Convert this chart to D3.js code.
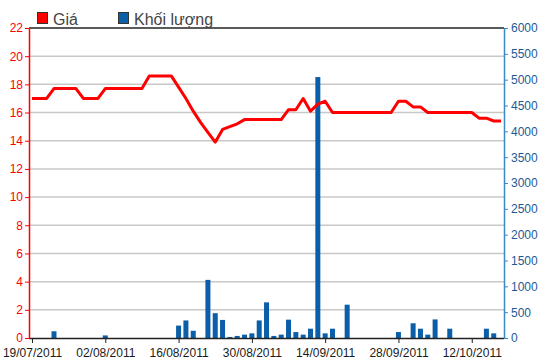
<!DOCTYPE html>
<html>
<head>
<meta charset="utf-8">
<script src="https://cdn.jsdelivr.net/npm/d3@7"></script>
<style>
  body { margin: 0; background: #fff; }
  svg { display: block; font-family: "Liberation Sans", Arial, sans-serif; }
</style>
</head>
<body>
<script>
// Price (left axis) and volume (right axis), one value per trading day
const prices = [
  17.0, 17.0, 17.0, 17.7, 17.7, 17.7, 17.7, 17.0, 17.0, 17.0,
  17.7, 17.7, 17.7, 17.7, 17.7, 17.7, 18.6, 18.6, 18.6, 18.6,
  17.8, 17.0, 16.1, 15.3, 14.6, 13.9, 14.8, 15.0, 15.2, 15.5,
  15.5, 15.5, 15.5, 15.5, 15.5, 16.2, 16.2, 17.0, 16.1, 16.6,
  16.8, 16.0, 16.0, 16.0, 16.0, 16.0, 16.0, 16.0, 16.0, 16.0,
  16.8, 16.8, 16.4, 16.4, 16.0, 16.0, 16.0, 16.0, 16.0, 16.0,
  16.0, 15.6, 15.6, 15.4, 15.4
];
const volumes = [
  0, 0, 0, 130, 0, 0, 0, 0, 0, 0,
  50, 0, 0, 0, 0, 0, 0, 0, 0, 0,
  240, 340, 140, 0, 1125, 480, 350, 20, 40, 65,
  90, 340, 690, 40, 65, 355, 115, 65, 180, 5050,
  90, 180, 0, 645, 0, 0, 0, 0, 0, 0,
  115, 0, 285, 180, 65, 360, 0, 180, 0, 0,
  0, 0, 180, 90, 0
];
const dateTickIndex = [0, 10, 20, 30, 40, 50, 60];
const dateTickLabels = ["19/07/2011", "02/08/2011", "16/08/2011", "30/08/2011",
                        "14/09/2011", "28/09/2011", "12/10/2011"];
const priceTicks = [0, 2, 4, 6, 8, 10, 12, 14, 16, 18, 20, 22];
const volumeTicks = [0, 500, 1000, 1500, 2000, 2500, 3000, 3500, 4000, 4500, 5000, 5500, 6000];

const width = 550, height = 364;
const plotLeft = 29, plotRight = 504, plotTop = 28, plotBottom = 338;
const tickFont = "Liberation Sans, Arial, sans-serif";

const svg = d3.select("body").append("svg")
  .attr("width", width)
  .attr("height", height);

const x = d3.scaleLinear().domain([-0.41, 64.4]).range([plotLeft, plotRight]);
const yPrice = d3.scaleLinear().domain([0, 22]).range([plotBottom, plotTop]);
const yVol = d3.scaleLinear().domain([0, 6000]).range([plotBottom, plotTop]);

// horizontal grid lines
svg.append("g")
  .selectAll("line")
  .data(priceTicks.slice(1, -1))
  .enter().append("line")
  .attr("x1", plotLeft).attr("x2", plotRight)
  .attr("y1", d => yPrice(d)).attr("y2", d => yPrice(d))
  .attr("stroke", "#c8c8c8").attr("stroke-width", 1.5);

// top border
svg.append("line")
  .attr("x1", plotLeft).attr("x2", plotRight)
  .attr("y1", plotTop).attr("y2", plotTop)
  .attr("stroke", "#5a5a5a").attr("stroke-width", 2);

// volume bars
svg.append("g")
  .selectAll("rect")
  .data(volumes.map((v, i) => ({ i, v })).filter(d => d.v > 0))
  .enter().append("rect")
  .attr("x", d => x(d.i) - 2.5)
  .attr("width", 5)
  .attr("y", d => yVol(d.v))
  .attr("height", d => plotBottom - yVol(d.v))
  .attr("fill", "#0a5fa8");

// price line
svg.append("path")
  .datum(prices)
  .attr("fill", "none")
  .attr("stroke", "#ff0000")
  .attr("stroke-width", 3)
  .attr("stroke-linejoin", "round")
  .attr("d", d3.line().x((d, i) => x(i)).y(d => yPrice(d)));

// bottom axis
const xAxis = svg.append("g")
  .attr("transform", `translate(0,${plotBottom})`)
  .call(d3.axisBottom(x)
    .tickValues(dateTickIndex)
    .tickFormat((d, i) => dateTickLabels[i])
    .tickSize(5)
    .tickSizeOuter(0));
xAxis.select(".domain").attr("stroke", "#222").attr("stroke-width", 1.5)
  .attr("d", `M${plotLeft},0.5H${plotRight}`);
xAxis.selectAll(".tick line").attr("stroke", "#222");
xAxis.selectAll(".tick text").attr("fill", "#1a1a1a")
  .attr("font-size", 12).attr("font-family", tickFont)
  .attr("dy", "0.95em");

// left axis
const yAxisL = svg.append("g")
  .attr("transform", `translate(${plotLeft},0)`)
  .call(d3.axisLeft(yPrice).tickValues(priceTicks).tickSize(4).tickSizeOuter(0).tickPadding(2));
yAxisL.select(".domain").attr("stroke", "#ff0000").attr("stroke-width", 1.5);
yAxisL.selectAll(".tick line").attr("stroke", "#ff0000");
yAxisL.selectAll(".tick text").attr("fill", "#ff0000")
  .attr("font-size", 12).attr("font-family", tickFont);

// right axis
const yAxisR = svg.append("g")
  .attr("transform", `translate(${plotRight},0)`)
  .call(d3.axisRight(yVol).tickValues(volumeTicks).tickFormat(d3.format("d"))
    .tickSize(4).tickSizeOuter(0).tickPadding(3));
yAxisR.select(".domain").attr("stroke", "#3a8ac6").attr("stroke-width", 1.5);
yAxisR.selectAll(".tick line").attr("stroke", "#3a8ac6");
yAxisR.selectAll(".tick text").attr("fill", "#1d5a94")
  .attr("font-size", 12).attr("font-family", tickFont);

// legend
const legend = [
  { label: "Giá", color: "#ff0000", x: 37 },
  { label: "Khối lượng", color: "#0a5fa8", x: 118 }
];
const lg = svg.append("g").selectAll("g").data(legend).enter().append("g");
lg.append("rect")
  .attr("x", d => d.x + 0.5).attr("y", 12.5)
  .attr("width", 10).attr("height", 11)
  .attr("fill", d => d.color)
  .attr("stroke", "#333").attr("stroke-width", 1);
lg.append("text")
  .attr("x", d => d.x + 16).attr("y", 25)
  .attr("fill", "#444").attr("font-size", 16)
  .text(d => d.label);
</script>
</body>
</html>
